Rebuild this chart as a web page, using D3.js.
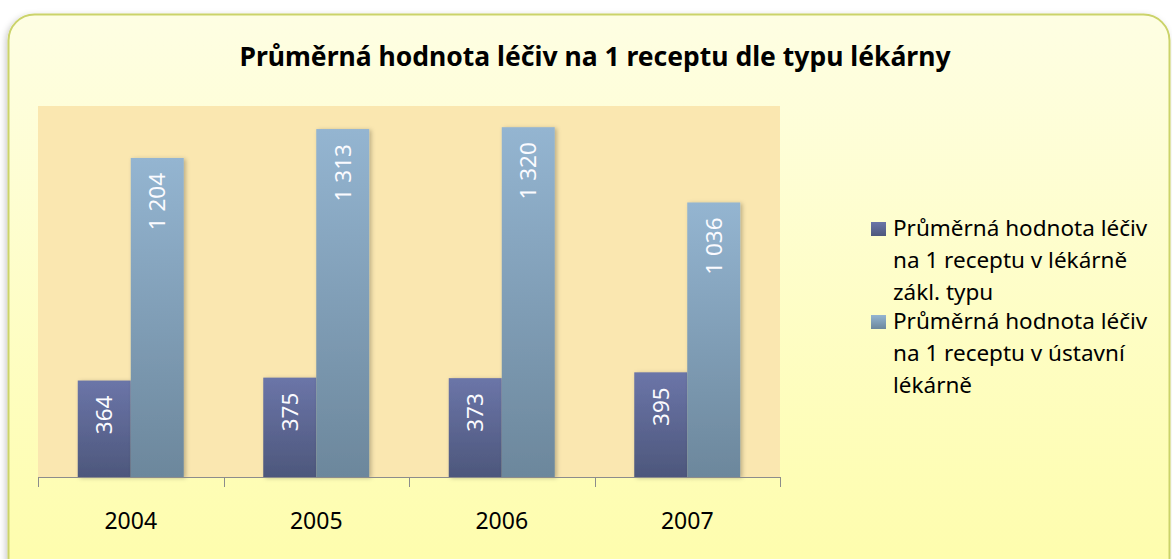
<!DOCTYPE html>
<html>
    <head>
        <meta charset="utf-8">
        <title>Průměrná hodnota léčiv</title>
        <style>
body {
    margin: 0;
    background-color: white;
    font-family: 'Noto Sans', sans-serif;
}
svg {
    display: block;
}
        </style>
        <script src="https://d3js.org/d3.v7.min.js"></script>
    </head>
    <body>
        <script>
var years = ["2004", "2005", "2006", "2007"];
var zakl = [364, 375, 373, 395];
var ustavni = [1204, 1313, 1320, 1036];
var seriesNames = [
    ["Průměrná hodnota léčiv", "na 1 receptu v lékárně", "zákl. typu"],
    ["Průměrná hodnota léčiv", "na 1 receptu v ústavní", "lékárně"]
];
var title = "Průměrná hodnota léčiv na 1 receptu dle typu lékárny";

var width = 1172,
    height = 559;

var svg = d3.select('body')
    .append('svg')
    .attr('width', width)
    .attr('height', height);

var defs = svg.append('defs');

var bg = defs.append('linearGradient')
    .attr('id', 'bg').attr('x1', 0).attr('y1', 0).attr('x2', 0).attr('y2', 1);
bg.append('stop').attr('offset', '0%').attr('stop-color', '#fefee3');
bg.append('stop').attr('offset', '100%').attr('stop-color', '#fefdaa');

var g1 = defs.append('linearGradient')
    .attr('id', 'dark').attr('x1', 0).attr('y1', 0).attr('x2', 0).attr('y2', 1);
g1.append('stop').attr('offset', '0%').attr('stop-color', '#6b75a8');
g1.append('stop').attr('offset', '100%').attr('stop-color', '#4d577c');

var g2 = defs.append('linearGradient')
    .attr('id', 'light').attr('x1', 0).attr('y1', 0).attr('x2', 0).attr('y2', 1);
g2.append('stop').attr('offset', '0%').attr('stop-color', '#94b5d1');
g2.append('stop').attr('offset', '100%').attr('stop-color', '#6c879c');

var sh = defs.append('filter').attr('id', 'shadow')
    .attr('x', '-10%').attr('y', '-10%').attr('width', '130%').attr('height', '130%');
sh.append('feDropShadow').attr('dx', 2).attr('dy', 1).attr('stdDeviation', 2)
    .attr('flood-color', '#000').attr('flood-opacity', 0.25);

var shBox = defs.append('filter').attr('id', 'boxshadow')
    .attr('x', '-5%').attr('y', '-5%').attr('width', '110%').attr('height', '110%');
shBox.append('feDropShadow').attr('dx', -2).attr('dy', 2).attr('stdDeviation', 3)
    .attr('flood-color', '#000').attr('flood-opacity', 0.2);

// outer box
svg.append('rect')
    .attr('x', 8.5).attr('y', 14.5)
    .attr('width', 1161).attr('height', 580)
    .attr('rx', 26)
    .attr('fill', 'url(#bg)')
    .attr('stroke', '#cbd36a')
    .attr('stroke-width', 2)
    .attr('filter', 'url(#boxshadow)');

svg.append('text')
    .attr('x', 595).attr('y', 66)
    .attr('text-anchor', 'middle')
    .style('font-size', '26.5px')
    .style('font-weight', 'bold')
    .style('fill', '#000')
    .text(title);

var plot = {left: 38, right: 780, top: 106, bottom: 477};

var x = d3.scaleBand()
    .domain(years)
    .range([plot.left, plot.right]);

var gap = 1.5;
var barW = x.bandwidth() / (2 + gap);

var y = d3.scaleLinear()
    .domain([0, 1400])
    .range([plot.bottom, plot.top]);

svg.append('rect')
    .attr('x', plot.left).attr('y', plot.top)
    .attr('width', plot.right - plot.left).attr('height', plot.bottom - plot.top)
    .attr('fill', '#fae7b0');

var data = years.map(function (yr, i) {
    return {year: yr, vals: [zakl[i], ustavni[i]]};
});

var groups = svg.selectAll('.grp')
    .data(data)
    .enter().append('g')
    .attr('class', 'grp')
    .attr('transform', function (d) {
        return 'translate(' + (x(d.year) + barW * gap / 2) + ',0)';
    });

groups.selectAll('rect')
    .data(function (d) { return d.vals; })
    .enter().append('rect')
    .attr('x', function (d, i) { return i * barW; })
    .attr('y', function (d) { return y(d); })
    .attr('width', barW)
    .attr('height', function (d) { return y(0) - y(d); })
    .attr('fill', function (d, i) { return i === 0 ? 'url(#dark)' : 'url(#light)'; })
    .attr('filter', 'url(#shadow)');

var fmt = function (v) {
    var s = String(v);
    return s.length > 3 ? s.slice(0, s.length - 3) + ' ' + s.slice(-3) : s;
};

groups.selectAll('text')
    .data(function (d) { return d.vals; })
    .enter().append('text')
    .attr('transform', function (d, i) {
        return 'translate(' + (i * barW + barW / 2 + 8) + ',' + (y(d) + 15) + ') rotate(-90)';
    })
    .attr('text-anchor', 'end')
    .style('font-size', '22.5px')
    .style('fill', '#fbfbff')
    .text(fmt);

// axis
var axis = svg.append('g')
    .attr('transform', 'translate(0,' + plot.bottom + ')')
    .call(d3.axisBottom(x).tickSize(0).tickPadding(45));
axis.select('.domain').attr('stroke', '#8c8c8c').attr('d', 'M' + plot.left + ',0.5H' + plot.right);
axis.selectAll('text')
    .style('font-family', "'Noto Sans', sans-serif")
    .style('font-size', '23px')
    .style('fill', '#000')
    .attr('dy', '0.32em');

var bounds = years.map(function (yr) { return x(yr); }).concat([plot.right]);
svg.selectAll('.tk')
    .data(bounds)
    .enter().append('line')
    .attr('x1', function (d) { return Math.round(d) + 0.5; })
    .attr('x2', function (d) { return Math.round(d) + 0.5; })
    .attr('y1', plot.bottom)
    .attr('y2', plot.bottom + 10)
    .attr('stroke', '#8c8c8c');

// legend
var legend = svg.append('g').attr('transform', 'translate(871,222)');
var colors = ['url(#dark)', 'url(#light)'];
seriesNames.forEach(function (lines, k) {
    var lg = legend.append('g').attr('transform', 'translate(0,' + (k * 93) + ')');
    lg.append('rect')
        .attr('width', 15).attr('height', 14)
        .attr('fill', colors[k]);
    lg.selectAll('text')
        .data(lines)
        .enter().append('text')
        .attr('x', 22)
        .attr('y', function (d, i) { return 14 + i * 32; })
        .style('font-size', '22.5px')
        .style('fill', '#000')
        .text(function (d) { return d; });
});

        </script>
    </body>
</html>
